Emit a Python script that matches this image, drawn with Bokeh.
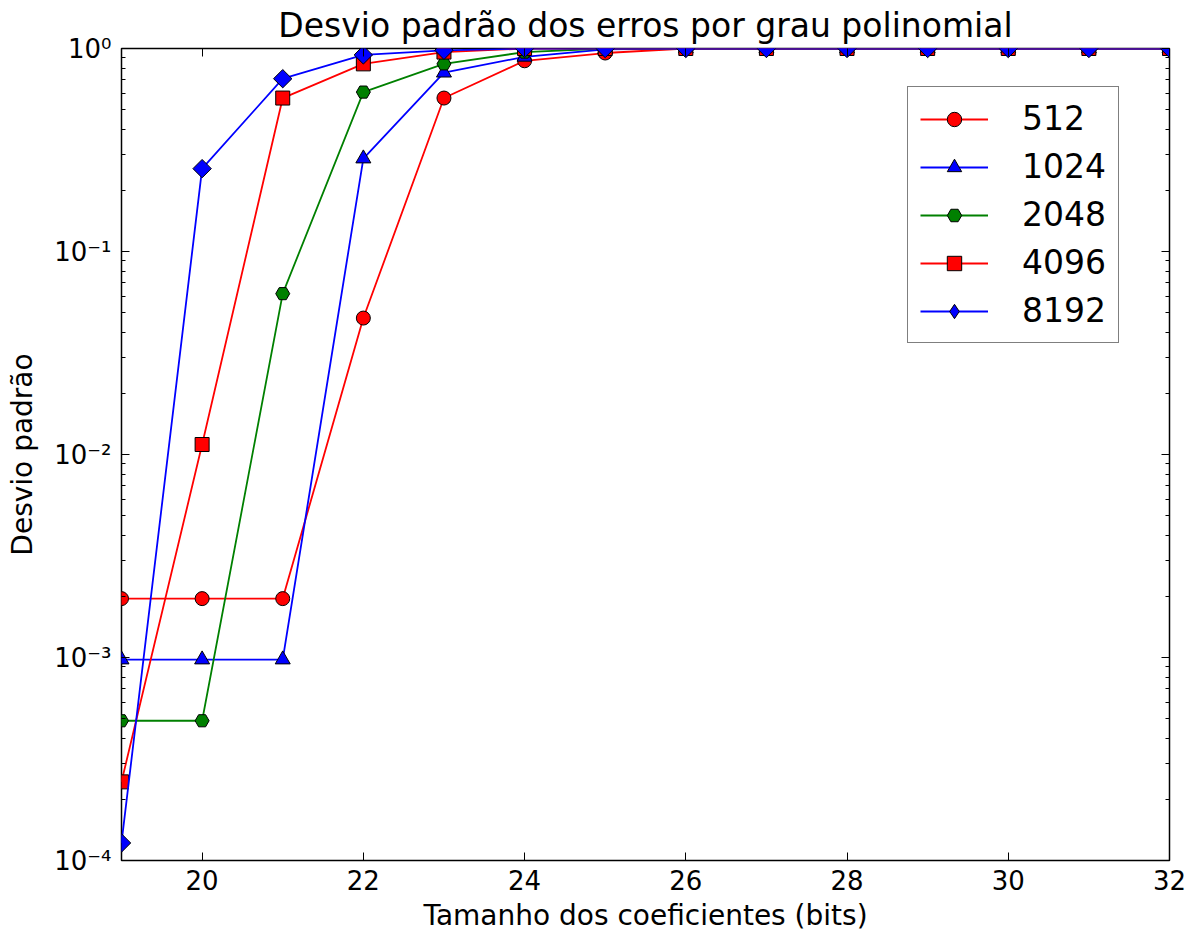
import math
from bokeh.plotting import figure
from bokeh.models import (FixedTicker, LogAxis, LinearAxis, Range1d, Legend, LegendItem,
                          CustomJSTickFormatter, LogTicker)
from bokeh.embed import file_html
from bokeh.resources import INLINE

bits = [19, 20, 21, 22, 23, 24, 25, 26, 27, 28, 29, 30, 31, 32]
s512 = [1.95e-3, 1.95e-3, 1.95e-3, 0.047, 0.57, 0.87, 0.95, 1, 1, 1, 1, 1, 1, 1]
s1024 = [9.77e-4, 9.77e-4, 9.77e-4, 0.287, 0.76, 0.91, 0.99, 1, 1, 1, 1, 1, 1, 1]
s2048 = [4.88e-4, 4.88e-4, 0.062, 0.61, 0.84, 0.96, 1, 1, 1, 1, 1, 1, 1, 1]
s4096 = [2.44e-4, 0.0112, 0.57, 0.84, 0.96, 1, 1, 1, 1, 1, 1, 1, 1, 1]
s8192 = [1.22e-4, 0.256, 0.71, 0.93, 0.98, 1, 1, 1, 1, 1, 1, 1, 1, 1]
labels = ["512", "1024", "2048", "4096", "8192"]
x_ticks = [20, 22, 24, 26, 28, 30, 32]

FONT = "DejaVu Sans"

p = figure(width=1197, height=936, y_axis_type="log", x_range=Range1d(19, 32),
           y_range=Range1d(1e-4, 1), output_backend="svg", toolbar_location=None,
           min_border_left=121, min_border_right=28, min_border_top=48, min_border_bottom=76,
           title="Desvio padrão dos erros por grau polinomial")
p.title.text_font = FONT
p.title.text_font_size = "33px"
p.title.text_font_style = "normal"
p.title.text_color = "black"
p.title.align = "center"
p.title.offset = 0
p.title.standoff = 7
p.grid.visible = False
p.outline_line_color = "black"
p.outline_line_width = 1.5
p.background_fill_color = "white"
p.border_fill_color = "white"

fmt = CustomJSTickFormatter(code="""
const sup = {'0':'\u2070','1':'\u00b9','2':'\u00b2','3':'\u00b3','4':'\u2074','5':'\u2075','6':'\u2076','7':'\u2077','8':'\u2078','9':'\u2079','-':'\u207b'};
const e = Math.round(Math.log10(tick));
return '10' + String(e).split('').map(c => sup[c]).join('');
""")

def style_axis(ax, is_x, labels_on=True):
    ax.axis_line_color = None
    ax.major_tick_in = 8
    ax.major_tick_out = 0
    ax.major_tick_line_color = "black"
    ax.minor_tick_line_color = "black"
    ax.major_tick_line_width = 1
    if is_x:
        ax.minor_tick_in = 0
        ax.minor_tick_out = 0
    else:
        ax.minor_tick_in = 4
        ax.minor_tick_out = 0
    ax.major_label_text_font = FONT
    ax.major_label_text_color = "black"
    ax.axis_label_text_font = FONT
    ax.axis_label_text_color = "black"
    ax.axis_label_text_font_size = "28px"
    ax.axis_label_text_font_style = "normal"
    if labels_on:
        ax.major_label_text_font_size = "26px"
    else:
        ax.major_label_text_font_size = "0px"
        ax.major_label_text_alpha = 0
        ax.major_label_standoff = 0

xa = p.xaxis[0]
xa.ticker = FixedTicker(ticks=x_ticks)
xa.axis_label = "Tamanho dos coeficientes (bits)"
style_axis(xa, True)
xa.major_label_standoff = 9
xa.axis_label_standoff = 6

ya = p.yaxis[0]
ya.ticker = LogTicker(num_minor_ticks=10)
ya.formatter = fmt
ya.axis_label = "Desvio padrão"
style_axis(ya, False)
ya.major_label_standoff = 10
ya.axis_label_standoff = 12

top = LinearAxis(ticker=FixedTicker(ticks=x_ticks))
style_axis(top, True, labels_on=False)
p.add_layout(top, "above")
right = LogAxis(ticker=LogTicker(num_minor_ticks=10))
style_axis(right, False, labels_on=False)
p.add_layout(right, "right")

series = [s512, s1024, s2048, s4096, s8192]
colors = ["#ff0000", "#0000ff", "#008000", "#ff0000", "#0000ff"]
markers = ["circle", "triangle", "hex", "square", "square"]
legend_markers = ["circle", "triangle", "hex", "square", "diamond"]
sizes = [14, 15, 14, 14, 13]
angles = [0, 0, 0, 0, math.pi / 4]

items = []
for lab, ys, c, m, lm, s, a in zip(labels, series, colors, markers, legend_markers, sizes, angles):
    ln = p.line(bits, ys, line_color=c, line_width=1.8)
    sc = p.scatter(bits, ys, marker=m, size=s, angle=a, fill_color=c,
                   line_color="black", line_width=1)
    if lm != m:
        # legend-only marker (legend markers are always drawn unrotated)
        dummy = p.scatter(bits, ys, marker=lm, size=0, fill_color=c,
                          line_color="black", line_width=1)
        items.append(LegendItem(label=lab, renderers=[ln, dummy]))
    else:
        items.append(LegendItem(label=lab, renderers=[ln, sc]))

legend = Legend(items=items, location=(786, 517))
legend.label_text_font = FONT
legend.label_text_font_size = "33px"
legend.label_text_color = "black"
legend.glyph_height = 36
legend.glyph_width = 68
legend.label_height = 36
legend.spacing = 9
legend.padding = 12
legend.margin = 0
legend.label_standoff = 34
legend.border_line_color = "black"
legend.border_line_width = 1.5
legend.background_fill_alpha = 1
p.add_layout(legend, "center")

open("out.html", "w").write(file_html(p, INLINE))
